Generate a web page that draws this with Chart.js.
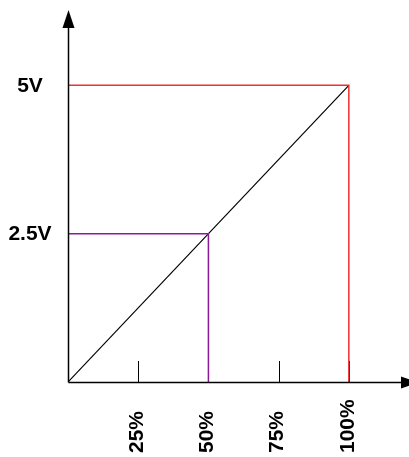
<!DOCTYPE html>
<html>
<head>
<meta charset="utf-8">
<script src="https://cdn.jsdelivr.net/npm/chart.js@4/dist/chart.umd.min.js"></script>
<style>
  body { margin: 0; background: #fff; }
  canvas { display: block; }
</style>
</head>
<body>
<canvas id="chart1" width="409" height="457"></canvas>
<script>
// values
const xTicks = [25, 50, 75, 100];
const xTickLabels = ['25%', '50%', '75%', '100%'];
const yTicks = [2.5, 5];
const yTickLabels = ['2.5V', '5V'];

const linePct = [0, 100];
const lineVolt = [0, 5];
const fullPct = [0, 100, 100];
const fullVolt = [5, 5, 0];
const halfPct = [0, 50, 50];
const halfVolt = [2.5, 2.5, 0];

function pts(xs, ys) {
    return xs.map((x, i) => ({ x: x, y: ys[i] }));
}

// axes with arrows, inward tick marks, bold labels
const axisPlugin = {
    id: 'axisPlugin',
    beforeDatasetsDraw(chart) {
        const ctx = chart.ctx;
        const xs = chart.scales.x, ys = chart.scales.y;
        const y0 = ys.getPixelForValue(0);
        ctx.save();
        ctx.strokeStyle = '#000';
        ctx.lineWidth = 1;
        xTicks.forEach(v => {
            const px = Math.round(xs.getPixelForValue(v)) + 0.5;
            ctx.beginPath();
            ctx.moveTo(px, y0);
            ctx.lineTo(px, y0 - 21);
            ctx.stroke();
        });
        ctx.restore();
    },
    afterDatasetsDraw(chart) {
        const ctx = chart.ctx;
        const xs = chart.scales.x, ys = chart.scales.y;
        const x0 = Math.round(xs.getPixelForValue(0)) + 0.5;
        const y0 = Math.round(ys.getPixelForValue(0)) + 0.5;
        ctx.save();
        ctx.strokeStyle = '#000';
        ctx.fillStyle = '#000';
        ctx.lineWidth = 1.5;

        // y axis
        const yTip = chart.chartArea.top - 16;
        ctx.beginPath();
        ctx.moveTo(x0, y0);
        ctx.lineTo(x0, yTip + 16);
        ctx.stroke();
        ctx.beginPath();
        ctx.moveTo(x0, yTip);
        ctx.lineTo(x0 - 6, yTip + 18);
        ctx.lineTo(x0 + 6, yTip + 18);
        ctx.closePath();
        ctx.fill();

        // x axis
        const xTip = chart.chartArea.right + 14;
        ctx.beginPath();
        ctx.moveTo(x0, y0);
        ctx.lineTo(xTip - 16, y0);
        ctx.stroke();
        ctx.beginPath();
        ctx.moveTo(xTip, y0);
        ctx.lineTo(xTip - 18, y0 - 6);
        ctx.lineTo(xTip - 18, y0 + 6);
        ctx.closePath();
        ctx.fill();

        ctx.font = 'bold 21px "Liberation Sans", Arial, sans-serif';
        ctx.textBaseline = 'middle';
        ctx.textAlign = 'center';
        yTicks.forEach((v, i) => {
            ctx.fillText(yTickLabels[i], 30, ys.getPixelForValue(v) + 1);
        });

        ctx.textAlign = 'left';
        xTicks.forEach((v, i) => {
            ctx.save();
            ctx.translate(xs.getPixelForValue(v) - 1, 453);
            ctx.rotate(-Math.PI / 2);
            ctx.fillText(xTickLabels[i], 0, 0);
            ctx.restore();
        });
        ctx.restore();
    }
};

document.addEventListener("DOMContentLoaded", function() {
    const ctx1 = document.getElementById('chart1').getContext('2d');
    new Chart(ctx1, {
        type: 'line',
        data: {
            datasets: [{
                data: pts(fullPct, fullVolt),
                borderColor: '#f03030',
                borderWidth: 1.5
            }, {
                data: pts(halfPct, halfVolt),
                borderColor: '#8a1a9a',
                borderWidth: 1.5
            }, {
                data: pts(linePct, lineVolt),
                borderColor: '#000',
                borderWidth: 1.2
            }]
        },
        options: {
            responsive: false,
            animation: false,
            events: [],
            layout: { padding: { left: 68, top: 26, right: 4, bottom: 75 } },
            elements: { point: { radius: 0 }, line: { tension: 0 } },
            plugins: { legend: { display: false }, tooltip: { enabled: false } },
            scales: {
                x: { type: 'linear', min: 0, max: 120, display: false },
                y: { type: 'linear', min: 0, max: 6, display: false }
            }
        },
        plugins: [axisPlugin]
    });
});
</script>
</body>
</html>
